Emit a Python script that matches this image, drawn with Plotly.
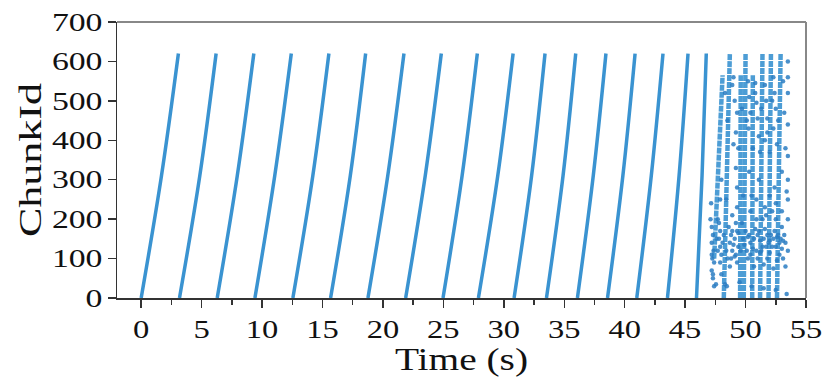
import plotly.graph_objects as go

# ---- data ----
chunk_levels = [0, 310, 620]
sweep_t_start = [0.0, 3.17, 6.29, 9.41, 12.55, 15.67, 18.76, 21.88, 24.97, 27.9,
                 30.85, 33.53, 36.09, 38.58, 41.0, 43.54, 45.94]
sweep_t_mid = [1.68, 4.85, 7.95, 11.05, 14.2, 17.3, 20.4, 23.5, 26.55, 29.5,
               32.3, 34.9, 37.4, 39.85, 42.2, 44.5, 46.4]
sweep_t_end = [3.08, 6.2, 9.32, 12.42, 15.53, 18.57, 21.74, 24.83, 27.81, 30.77,
               33.41, 35.95, 38.45, 40.86, 43.17, 45.24, 46.75]

late_t_bottom = [47.4, 48.2, 49.55, 49.85, 50.55, 51.2, 51.9, 52.6]
late_t_top = [48.1, 48.7, 49.6, 50.0, 50.6, 51.4, 52.1, 52.9]
late_chunk_bottom = [100, 0, 0, 0, 0, 0, 0, 0]
late_chunk_top = [565, 620, 565, 620, 565, 620, 620, 620]

scatter_t = [
    48.9, 49.1, 49.3, 49.2, 49.0, 50.2, 50.3, 50.4, 50.25, 50.8, 50.9, 51.0, 51.1,
    51.6, 51.7, 51.8, 51.6, 52.3, 52.4, 52.5, 52.3, 52.6, 53.1, 53.2, 53.3, 49.4,
    50.6, 51.2, 52.0, 53.5, 53.5, 53.5, 53.5, 53.5, 53.5, 53.5, 53.5, 53.5,
    48.0, 47.9, 47.7, 49.2, 49.3, 50.3, 50.5, 51.1, 51.6, 52.4, 52.2, 53.0, 53.4,
    47.2, 47.3, 47.2, 47.35, 47.25, 47.4, 47.2, 47.3, 47.4, 47.55,
    47.8, 47.9, 47.8, 47.9, 48.0, 47.9, 48.0, 48.3, 48.45,
    48.6, 48.8, 48.7, 48.9, 48.8, 48.7,
    49.2, 49.3, 49.1, 49.4, 49.2, 49.3,
    50.0, 50.2, 50.4, 50.6, 50.4, 50.2,
    50.8, 51.0, 51.2, 51.4, 51.2, 51.0,
    51.6, 51.8, 52.0, 52.2, 52.0, 51.8,
    52.4, 52.6, 52.8, 53.0, 52.8, 52.6,
    53.0, 53.2, 53.3, 53.1, 53.3, 50.7, 51.5, 52.3,
    49.7, 49.8, 49.6, 50.9, 51.7, 52.5,
    49.5, 50.5, 51.5, 52.5, 53.4,
    47.1, 47.15, 47.2, 47.3, 47.6, 47.7, 48.1, 48.2, 48.4, 48.5,
    48.9, 49.0, 49.1, 49.4, 49.9, 50.1, 50.3, 50.7, 50.9, 51.1,
    51.3, 51.5, 51.7, 51.9, 52.1, 52.3, 52.5, 52.7, 52.9, 53.1,
    48.3, 48.5, 49.0, 49.7, 50.1, 50.8, 51.3, 51.8, 52.2, 52.7,
    48.4, 48.9, 49.3, 49.8, 50.4, 50.9, 51.4, 52.0, 52.5, 53.0,
]
scatter_chunk = [
    540, 500, 470, 420, 390, 550, 510, 470, 430, 545, 495, 455, 410,
    540, 500, 455, 400, 560, 520, 480, 430, 390, 550, 470, 380, 380,
    380, 370, 370, 600, 560, 520, 440, 360, 300, 250, 200, 120,
    300, 250, 200, 330, 280, 320, 260, 300, 230, 280, 220, 320, 270,
    180, 160, 140, 120, 100, 90, 70, 50, 30, 35,
    190, 170, 150, 130, 110, 90, 60, 35, 30,
    180, 160, 140, 120, 100, 80,
    190, 170, 150, 130, 110, 90,
    170, 155, 140, 125, 110, 100,
    175, 160, 145, 130, 115, 100,
    175, 160, 145, 130, 115, 100,
    170, 155, 140, 125, 110, 95,
    180, 160, 140, 100, 80, 80, 85, 75,
    190, 150, 120, 200, 210, 200,
    40, 30, 25, 20, 10,
    200, 240, 110, 60, 150, 120, 140, 160, 120, 100,
    170, 135, 105, 165, 135, 120, 160, 150, 120, 170,
    120, 150, 130, 140, 160, 150, 130, 160, 150, 145,
    520, 450, 560, 480, 450, 520, 480, 420, 500, 450,
    250, 210, 230, 260, 220, 250, 200, 260, 240, 220,
]

x_ticks = [0, 5, 10, 15, 20, 25, 30, 35, 40, 45, 50, 55]
y_ticks = [0, 100, 200, 300, 400, 500, 600, 700]

LINE_COLOR = "#3a93d1"
DOT_COLOR = "#2a7dc2"
FONT = "Liberation Serif"

fig = go.Figure()

# regular sweeps
sx, sy = [], []
for t0, tm, t1 in zip(sweep_t_start, sweep_t_mid, sweep_t_end):
    sx += [t0, tm, t1, None]
    sy += chunk_levels + [None]
fig.add_trace(go.Scatter(x=sx, y=sy, mode="lines",
                         line=dict(color=LINE_COLOR, width=3.5, shape="spline"),
                         hoverinfo="skip", showlegend=False))

# late, crowded sweeps
lx, ly = [], []
for tb, tt, cb, ct in zip(late_t_bottom, late_t_top, late_chunk_bottom, late_chunk_top):
    lx += [tb, tt, None]
    ly += [cb, ct, None]
fig.add_trace(go.Scatter(x=lx, y=ly, mode="lines", opacity=0.9,
                         line=dict(color=LINE_COLOR, width=4.5, dash="6px,1px"),
                         hoverinfo="skip", showlegend=False))

# scattered chunks
fig.add_trace(go.Scatter(x=scatter_t, y=scatter_chunk, mode="markers",
                         marker=dict(color=DOT_COLOR, size=4.5, opacity=0.85),
                         hoverinfo="skip", showlegend=False))

fig.update_layout(
    width=825, height=384,
    margin=dict(l=117, r=19, t=22, b=86),
    paper_bgcolor="white", plot_bgcolor="white",
    font=dict(family=FONT, size=25, color="#111"),
    shapes=[
        dict(type="line", xref="paper", yref="paper", x0=0, x1=1, y0=1, y1=1,
             line=dict(color="#888", width=2)),
        dict(type="line", xref="paper", yref="paper", x0=1, x1=1, y0=0, y1=1,
             line=dict(color="#888", width=2)),
    ],
)
fig.update_xaxes(
    range=[-2, 55], tickvals=x_ticks, ticks="outside", ticklen=8, tickwidth=1.5,
    tickcolor="#333", showline=True, linecolor="#333", linewidth=1.5,
    showgrid=False, zeroline=False, automargin=False,
    minor=dict(dtick=2.5, tick0=0, ticks="outside", ticklen=5, tickcolor="#333", showgrid=False),
    title=dict(text="Time (s)", font=dict(family=FONT, size=31), standoff=0),
    tickfont=dict(family=FONT, size=25),
)
fig.update_yaxes(
    range=[0, 700], tickvals=y_ticks, ticks="outside", ticklen=8, tickwidth=1.5,
    tickcolor="#333", showline=True, linecolor="#333", linewidth=1.5,
    showgrid=False, zeroline=False, automargin=False,
    title=dict(text="ChunkId", font=dict(family=FONT, size=31), standoff=14),
    tickfont=dict(family=FONT, size=25),
)

# remove the page's default body margin, and widen the glyphs of the real text
# (the reference typeface is noticeably wider than Times)
page_js = """
document.body.style.margin = '0';
document.body.style.overflow = 'hidden';
var gd = document.getElementById('{plot_id}');
function widen(sel, k) {
  gd.querySelectorAll(sel).forEach(function (t) {
    var w = t.getComputedTextLength();
    if (w > 0) {
      t.setAttribute('textLength', (w * k).toFixed(1));
      t.setAttribute('lengthAdjust', 'spacingAndGlyphs');
    }
  });
}
widen('.xtick text', 1.3);
widen('.ytick text', 1.35);
widen('.g-xtitle text', 1.27);
widen('.g-ytitle text', 1.42);
"""

fig.write_html("out.html", post_script=page_js,
               config={"displayModeBar": False, "staticPlot": True})
